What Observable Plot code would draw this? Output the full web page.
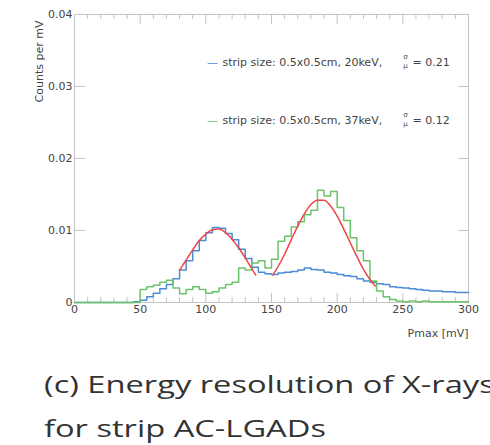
<!DOCTYPE html>
<html><head><meta charset="utf-8">
<script src="https://cdn.jsdelivr.net/npm/d3@7"></script>
<script src="https://cdn.jsdelivr.net/npm/@observablehq/plot@0.6"></script>
<style>
html,body{margin:0;padding:0;background:#fff;width:490px;height:445px;overflow:hidden;}
#chart svg{display:block;}
#caption{font-family:"Open Sans",sans-serif;font-size:24px;line-height:44px;color:#333;
  white-space:nowrap;margin-top:17px;padding-left:44px;transform:scaleX(1.36);transform-origin:44px 0;}
</style></head>
<body>
<div id="chart"></div>
<div id="caption">(c) Energy resolution of X-rays<br>for strip AC-LGADs</div>
<script>
// Histogram bin left edges (mV), bin width 5
const binEdges = [0,5,10,15,20,25,30,35,40,45,50,55,60,65,70,75,80,85,90,95,100,105,110,115,120,125,130,135,140,145,150,155,160,165,170,175,180,185,190,195,200,205,210,215,220,225,230,235,240,245,250,255,260,265,270,275,280,285,290,295,300];
// 20 keV (blue) counts per mV
const blueCounts = [0,0,0,0,0,0,0,0,0,0.0001,0.0003,0.0008,0.0013,0.0019,0.0025,0.0033,0.0045,0.0058,0.0072,0.0086,0.0097,0.0104,0.0103,0.0096,0.0087,0.0074,0.0061,0.0049,0.0042,0.0040,0.0039,0.0041,0.0042,0.0043,0.0045,0.0048,0.0046,0.0045,0.0042,0.0041,0.0039,0.0037,0.0036,0.0033,0.0030,0.0028,0.0026,0.0025,0.0022,0.0021,0.0020,0.0019,0.0018,0.0017,0.0016,0.0016,0.0015,0.0015,0.0014,0.0014,0.0014];
// 37 keV (green) counts per mV
const greenCounts = [0,0,0,0,0,0,0,0,0,0,0.0018,0.0022,0.0024,0.0028,0.0031,0.0020,0.0012,0.0018,0.0022,0.0018,0.0013,0.0015,0.0020,0.0025,0.0028,0.0048,0.0045,0.0055,0.0058,0.0048,0.0060,0.0085,0.0092,0.0105,0.0112,0.0122,0.0128,0.0156,0.0148,0.0154,0.0132,0.0114,0.0090,0.0072,0.0058,0.0030,0.0016,0.0008,0.0004,0.0002,0.0001,0.0002,0.0001,0.0002,0.0001,0.0001,0.0001,0.0001,0.0001,0.0001,0.0001];
// Gaussian fit curves (red)
const fit1X = [80,85,90,95,100,105,110,115,120,125,130,135,138];
const fit1Y = [0.0045,0.0059,0.0073,0.0086,0.0095,0.0101,0.0102,0.0097,0.0088,0.0076,0.0062,0.0047,0.0038];
const fit2X = [151,155,160,165,170,175,180,185,190,195,200,205,210,215,220,225,229];
const fit2Y = [0.0038,0.0050,0.0067,0.0087,0.0106,0.0123,0.0136,0.0142,0.0142,0.0134,0.0120,0.0102,0.0083,0.0064,0.0046,0.0032,0.0023];
// Axis ticks
const xMajor = [0,50,100,150,200,250,300];
const xMinor = [10,20,30,40,60,70,80,90,110,120,130,140,160,170,180,190,210,220,230,240,260,270,280,290];
const yMajor = [0,0.01,0.02,0.03,0.04];
const yTickLabels = ["0","0.01","0.02","0.03","0.04"];
// Legend
const legendLabels = ["strip size: 0.5x0.5cm, 20keV,","strip size: 0.5x0.5cm, 37keV,"];
const legendRes = ["= 0.21","= 0.12"];
const xTitle = "Pmax [mV]";
const yTitle = "Counts per mV";

const blue = binEdges.map((x,i)=>({x, y: blueCounts[i]}));
const green = binEdges.map((x,i)=>({x, y: greenCounts[i]}));
const fit1 = fit1X.map((x,i)=>({x, y: fit1Y[i]}));
const fit2 = fit2X.map((x,i)=>({x, y: fit2Y[i]}));

const cBlue = "#4a8ad6", cGreen = "#6cc36a", cRed = "#ef4545", cAxis = "#c4c4c4", cText = "#444";
const FH = 288; // frame height (px)
const FW = 394; // frame width (px)
const font = "DejaVu Sans";
const rowDy = [44, 102];
const rowColor = [cBlue, cGreen];

const legendMarks = [];
[0,1].forEach(r => {
  legendMarks.push(Plot.text(["—"], {frameAnchor: "top-left", textAnchor: "middle", dx: 138, dy: rowDy[r], fill: rowColor[r], fontSize: 11}));
  legendMarks.push(Plot.text([legendLabels[r]], {frameAnchor: "top-left", textAnchor: "start", dx: 148, dy: rowDy[r], fill: cText, fontSize: 11}));
  legendMarks.push(Plot.text(["σ"], {frameAnchor: "top-left", textAnchor: "middle", dx: 331, dy: rowDy[r]-4, fill: cText, fontSize: 7}));
  legendMarks.push(Plot.text(["μ"], {frameAnchor: "top-left", textAnchor: "middle", dx: 331, dy: rowDy[r]+5, fill: cText, fontSize: 7}));
  legendMarks.push(Plot.text([legendRes[r]], {frameAnchor: "top-left", textAnchor: "start", dx: 338, dy: rowDy[r], fill: cText, fontSize: 11}));
});

const plot = Plot.plot({
  width: 490, height: 345,
  marginLeft: 74, marginRight: 22, marginTop: 14, marginBottom: 43,
  style: {fontFamily: font, background: "#fff"},
  x: {domain: [0,300], axis: null},
  y: {domain: [0,0.04], axis: null},
  marks: [
    Plot.frame({stroke: cAxis, strokeWidth: 1}),
    Plot.ruleX(xMajor, {stroke: cAxis, insetTop: FH-9}),
    Plot.ruleX(xMinor, {stroke: cAxis, insetTop: FH-5}),
    Plot.ruleX(xMajor, {stroke: cAxis, insetBottom: FH-10}),
    Plot.ruleX(xMinor, {stroke: cAxis, insetBottom: FH-5}),
    Plot.ruleY(yMajor, {stroke: cAxis, insetRight: FW-11}),
    Plot.ruleY(yMajor, {stroke: cAxis, insetLeft: FW-10}),
    Plot.axisX({ticks: xMajor, tickSize: 0, tickPadding: 3, fontSize: 11, fill: cText, label: null, tickFormat: d => String(d)}),
    Plot.axisY({ticks: yMajor, tickSize: 0, tickPadding: 2, fontSize: 11, fill: cText, label: null, tickFormat: (d,i) => yTickLabels[i]}),
    Plot.text([xTitle], {frameAnchor: "bottom-right", textAnchor: "end", dy: 34, fontSize: 11, fill: cText}),
    Plot.text([yTitle], {frameAnchor: "top-left", textAnchor: "end", rotate: -90, dx: -39, dy: 6, fontSize: 11, fill: cText}),
    Plot.line(blue, {x: "x", y: "y", curve: "step-after", stroke: cBlue, strokeWidth: 1.5}),
    Plot.line(green, {x: "x", y: "y", curve: "step-after", stroke: cGreen, strokeWidth: 1.5}),
    Plot.line(fit1, {x: "x", y: "y", curve: "monotone-x", stroke: cRed, strokeWidth: 1.5}),
    Plot.line(fit2, {x: "x", y: "y", curve: "monotone-x", stroke: cRed, strokeWidth: 1.5}),
    ...legendMarks
  ]
});
document.getElementById("chart").appendChild(plot);
</script>
</body></html>
